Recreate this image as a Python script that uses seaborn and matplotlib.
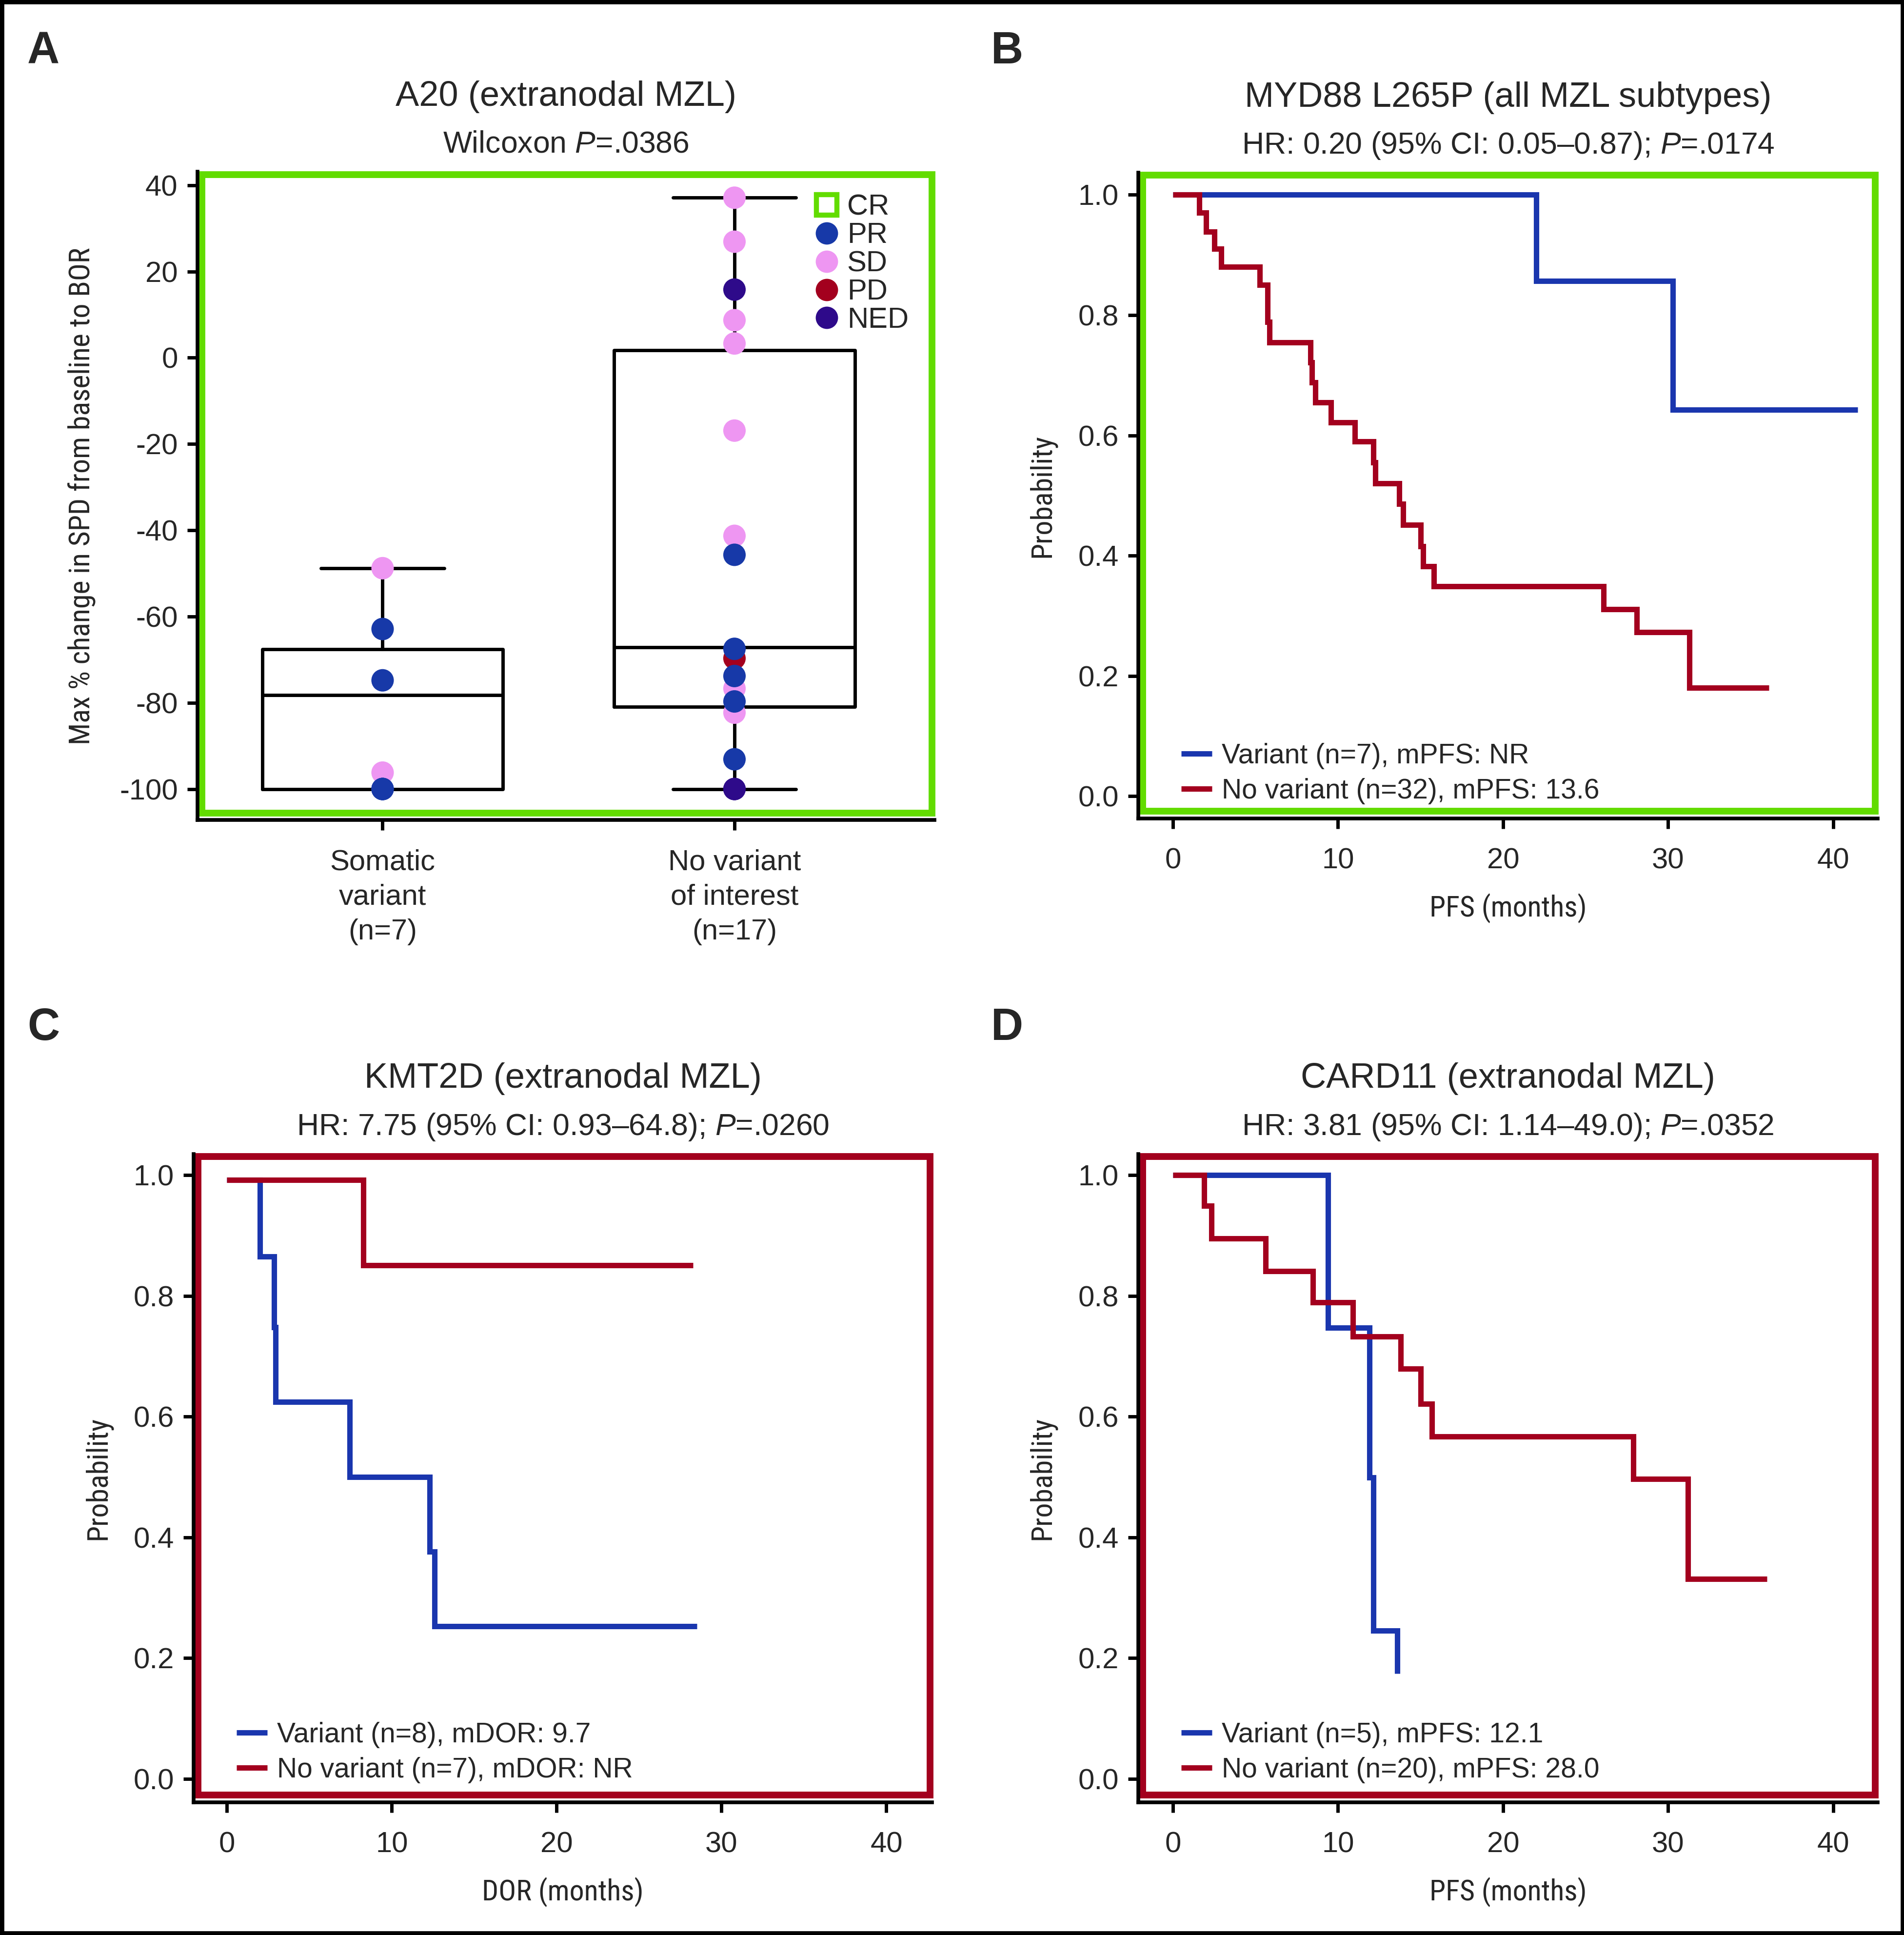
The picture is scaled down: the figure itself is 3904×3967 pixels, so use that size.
import numpy as np
import pandas as pd
import matplotlib
matplotlib.use("Agg")
import matplotlib.pyplot as plt
import seaborn as sns
from matplotlib.patches import Rectangle
from matplotlib.lines import Line2D
from matplotlib import font_manager

# ---------------- data ----------------
# Panel A
a_groups = ["Somatic\nvariant\n(n=7)", "No variant\nof interest\n(n=17)"]
a_somatic_values = [-48.8, -96.2, -62.9, -74.8, -100, -100, -100]
a_somatic_resp = ["SD", "SD", "PR", "PR", "PR", "PR", "PR"]
a_novar_values = [37.1, 26.9, 8.7, 3.3, -16.9, -41.3, -76.7, -82.3,
                  -69.7,
                  -45.7, -67.5, -73.8, -79.7, -93.1,
                  15.8, -100, -100]
a_novar_resp = ["SD"] * 8 + ["PD"] + ["PR"] * 5 + ["NED"] * 3
a_med = [-78.2, -67.1]
a_q1 = [-100.0, -80.9]
a_q3 = [-67.6, 1.7]
a_whislo = [-100.0, -100.0]
a_whishi = [-48.8, 37.1]
a_yticks = [40, 20, 0, -20, -40, -60, -80, -100]
resp_cats = ["CR", "PR", "SD", "PD", "NED"]

# Panel B (MYD88)
b_var_t = [0, 22.0, 30.3, 41.5]
b_var_s = [1.0, 0.857, 0.643, 0.643]
b_nov_t = [0, 1.6, 2.02, 2.51, 2.93, 5.27, 5.73, 5.86, 8.33, 8.42, 8.62, 9.57,
           11.03, 12.13, 12.25, 13.70, 13.95, 15.01, 15.16, 15.8, 26.1, 28.1,
           31.3, 36.1]
b_nov_s = [1.0, 0.970, 0.939, 0.910, 0.880, 0.850, 0.789, 0.755, 0.721, 0.688,
           0.655, 0.622, 0.590, 0.555, 0.520, 0.486, 0.451, 0.416, 0.382,
           0.349, 0.311, 0.273, 0.180, 0.180]
# Panel C (KMT2D)
c_var_t = [0, 2.0, 2.85, 2.95, 7.45, 12.3, 12.6, 28.5]
c_var_s = [0.992, 0.865, 0.748, 0.624, 0.500, 0.376, 0.253, 0.253]
c_nov_t = [0, 8.28, 28.26]
c_nov_s = [0.992, 0.851, 0.851]
# Panel D (CARD11)
d_var_t = [0, 9.4, 11.9, 12.14, 13.6]
d_var_s = [1.0, 0.747, 0.499, 0.245, 0.174]
d_nov_t = [0, 1.88, 2.32, 5.61, 8.49, 10.9, 13.8, 15.0, 15.7, 27.9, 31.2, 36.0]
d_nov_s = [1.0, 0.949, 0.895, 0.841, 0.789, 0.733, 0.679, 0.621, 0.567, 0.497,
           0.331, 0.331]

km_xticks = [0, 10, 20, 30, 40]
km_yticks = [0.0, 0.2, 0.4, 0.6, 0.8, 1.0]

titles = {
    "A": ("A20 (extranodal MZL)", "Wilcoxon $P$=.0386"),
    "B": ("MYD88 L265P (all MZL subtypes)", "HR: 0.20 (95% CI: 0.05\u20130.87); $P$=.0174"),
    "C": ("KMT2D (extranodal MZL)", "HR: 7.75 (95% CI: 0.93\u201364.8); $P$=.0260"),
    "D": ("CARD11 (extranodal MZL)", "HR: 3.81 (95% CI: 1.14\u201349.0); $P$=.0352"),
}
legend_labels = {
    "B": ["Variant (n=7), mPFS: NR", "No variant (n=32), mPFS: 13.6"],
    "C": ["Variant (n=8), mDOR: 9.7", "No variant (n=7), mDOR: NR"],
    "D": ["Variant (n=5), mPFS: 12.1", "No variant (n=20), mPFS: 28.0"],
}

# ---------------- style ----------------
sns.set_style("ticks")
plt.rcParams["font.family"] = ["Liberation Sans", "DejaVu Sans"]
plt.rcParams["mathtext.fontset"] = "custom"
plt.rcParams["mathtext.rm"] = "Liberation Sans"
plt.rcParams["mathtext.it"] = "Liberation Sans:italic"
plt.rcParams["axes.unicode_minus"] = False

# pick a condensed face for the axis labels if one is installed
_fonts = font_manager.fontManager.ttflist
_names = {f.name for f in _fonts}
LAB_KW = dict(family=["Liberation Sans", "DejaVu Sans"])
if "Liberation Sans Narrow" in _names:
    LAB_KW = dict(family=["Liberation Sans Narrow", "DejaVu Sans"])
elif "Roboto Condensed" in _names:
    LAB_KW = dict(family=["Roboto Condensed", "DejaVu Sans"])
elif any(f.name == "DejaVu Sans" and f.stretch in ("condensed", "semi-condensed")
         for f in _fonts):
    LAB_KW = dict(family=["DejaVu Sans"], fontstretch="condensed")

BLUE = "#1A36AE"
RED = "#A3001E"
GREEN = "#62DC00"
resp_colors = {"CR": GREEN, "PR": "#1739A8", "SD": "#EE96F2", "PD": "#A3001E", "NED": "#2E0A8A"}

TICK_FS = 43
TITLE_FS = 52
SUB_FS = 45
LAB_FS = 44
LEG_FS = 41

fig = plt.figure(figsize=(39.05, 39.67), dpi=100)
fig.patches.append(Rectangle((0, 0), 1, 1, transform=fig.transFigure, fill=False,
                             ec="black", lw=12, zorder=10))

axA = fig.add_axes([0.1037, 0.5762, 0.3869, 0.3350])
axB = fig.add_axes([0.5977, 0.5770, 0.3882, 0.3338])
axC = fig.add_axes([0.1017, 0.0686, 0.3877, 0.3350])
axD = fig.add_axes([0.5977, 0.0686, 0.3882, 0.3350])


def style_axes(ax, color):
    for s in ["top", "right"]:
        ax.spines[s].set_visible(False)
    for s in ["left", "bottom"]:
        ax.spines[s].set_linewidth(5.5)
        ax.spines[s].set_color("black")
        ax.spines[s].set_zorder(6)
    ax.tick_params(axis="both", length=15, width=5, color="black",
                   labelsize=TICK_FS, direction="out")
    ax.tick_params(axis="x", pad=28)
    ax.tick_params(axis="y", pad=14)
    ax.add_patch(Rectangle((0.006, 0.011), 0.991, 0.985, transform=ax.transAxes,
                           fill=False, ec=color, lw=10, clip_on=False, zorder=5,
                           joinstyle="miter"))


def titles_for(ax, key):
    t, s = titles[key]
    ax.text(0.5, 1.116, t, transform=ax.transAxes, ha="center", va="center",
            fontsize=TITLE_FS)
    ax.text(0.5, 1.042, s, transform=ax.transAxes, ha="center", va="center",
            fontsize=SUB_FS)


# ---------------- Panel A ----------------
dfA = pd.DataFrame({
    "x": [0] * len(a_somatic_values) + [1] * len(a_novar_values),
    "y": a_somatic_values + a_novar_values,
    "resp": a_somatic_resp + a_novar_resp,
})
draw_order = {"SD": 0, "PD": 1, "PR": 2, "NED": 3, "CR": 4}
dfA["o"] = dfA["resp"].map(draw_order)
dfA = dfA.sort_values("o", kind="stable")

stats = []
for i in range(2):
    stats.append(dict(med=a_med[i], q1=a_q1[i], q3=a_q3[i],
                      whislo=a_whislo[i], whishi=a_whishi[i], fliers=[]))
lp = dict(color="black", linewidth=5)
axA.bxp(stats, positions=[0, 1], widths=0.684, capwidths=0.35, showfliers=False,
        boxprops=lp, whiskerprops=lp, capprops=lp, medianprops=lp,
        patch_artist=False, manage_ticks=False, zorder=2)
sns.scatterplot(data=dfA, x="x", y="y", hue="resp", palette=resp_colors,
                s=1100, linewidth=0, legend=False, ax=axA, zorder=3)
axA.set_xlim(-0.526, 1.568)
axA.set_ylim(-107.2, 43.1)
axA.set_xticks([0, 1])
axA.set_xticklabels(a_groups, linespacing=1.37)
axA.set_yticks(a_yticks)
axA.set_yticklabels([str(v) for v in a_yticks])
axA.set_xlabel("")
ylabA = axA.set_ylabel("Max % change in SPD from baseline to BOR",
                       fontsize=LAB_FS, labelpad=35, **LAB_KW)
style_axes(axA, GREEN)
titles_for(axA, "A")

handles = []
for c in resp_cats:
    if c == "CR":
        handles.append(Line2D([], [], ls="", marker="s", ms=30, mfc="white",
                              mec=GREEN, mew=7.5))
    else:
        handles.append(Line2D([], [], ls="", marker="o", ms=33, mfc=resp_colors[c],
                              mec="none"))
axA.legend(handles, resp_cats, loc="upper left", bbox_to_anchor=(0.838, 0.966),
           frameon=False, fontsize=TICK_FS, handlelength=0.8, handletextpad=0.3,
           labelspacing=0.05, borderpad=0, borderaxespad=0)

# ---------------- KM panels ----------------
km_labels = []


def km_panel(ax, key, var_t, var_s, nov_t, nov_s, xlab, frame_color, xlim, ylim, leg_y):
    labs = legend_labels[key]
    for t, s, col, lab in [(var_t, var_s, BLUE, labs[0]), (nov_t, nov_s, RED, labs[1])]:
        sns.lineplot(x=t, y=s, drawstyle="steps-post", color=col, lw=8,
                     estimator=None, sort=False, label=lab, ax=ax,
                     solid_capstyle="butt", solid_joinstyle="miter")
    ax.set_xlim(*xlim)
    ax.set_ylim(*ylim)
    ax.set_xticks(km_xticks)
    ax.set_xticklabels([str(v) for v in km_xticks])
    ax.set_yticks(km_yticks)
    ax.set_yticklabels([f"{v:.1f}" for v in km_yticks])
    km_labels.append(ax.set_xlabel(xlab, fontsize=LAB_FS, labelpad=28, **LAB_KW))
    km_labels.append(ax.set_ylabel("Probability", fontsize=LAB_FS, labelpad=32, **LAB_KW))
    style_axes(ax, frame_color)
    titles_for(ax, key)
    ax.legend(loc="lower left", bbox_to_anchor=(0.058, leg_y), frameon=False,
              fontsize=LEG_FS, handlelength=1.1, handletextpad=0.35,
              labelspacing=0.32, borderpad=0, borderaxespad=0)


km_panel(axB, "B", b_var_t, b_var_s, b_nov_t, b_nov_s, "PFS (months)", GREEN,
         (-2.1, 42.7), (-0.037, 1.037), 0.022)
km_panel(axC, "C", c_var_t, c_var_s, c_nov_t, c_nov_s, "DOR (months)", RED,
         (-2.02, 42.77), (-0.039, 1.035), 0.029)
km_panel(axD, "D", d_var_t, d_var_s, d_nov_t, d_nov_s, "PFS (months)", RED,
         (-2.1, 42.7), (-0.039, 1.035), 0.029)

# size the axis-label font so the long label spans the same length as the reference
renderer = fig.canvas.get_renderer()
h = ylabA.get_window_extent(renderer).height
lab_fs = LAB_FS * 1020.0 / h
for t in [ylabA] + km_labels:
    t.set_fontsize(lab_fs)

# panel letters
for lab, (x, y) in {"A": (0.0228, 0.9733), "B": (0.5288, 0.9733),
                    "C": (0.0228, 0.4686), "D": (0.5288, 0.4686)}.items():
    fig.text(x, y, lab, ha="center", va="center", fontsize=66, fontweight="bold")

fig.savefig("out.png", dpi=100)
